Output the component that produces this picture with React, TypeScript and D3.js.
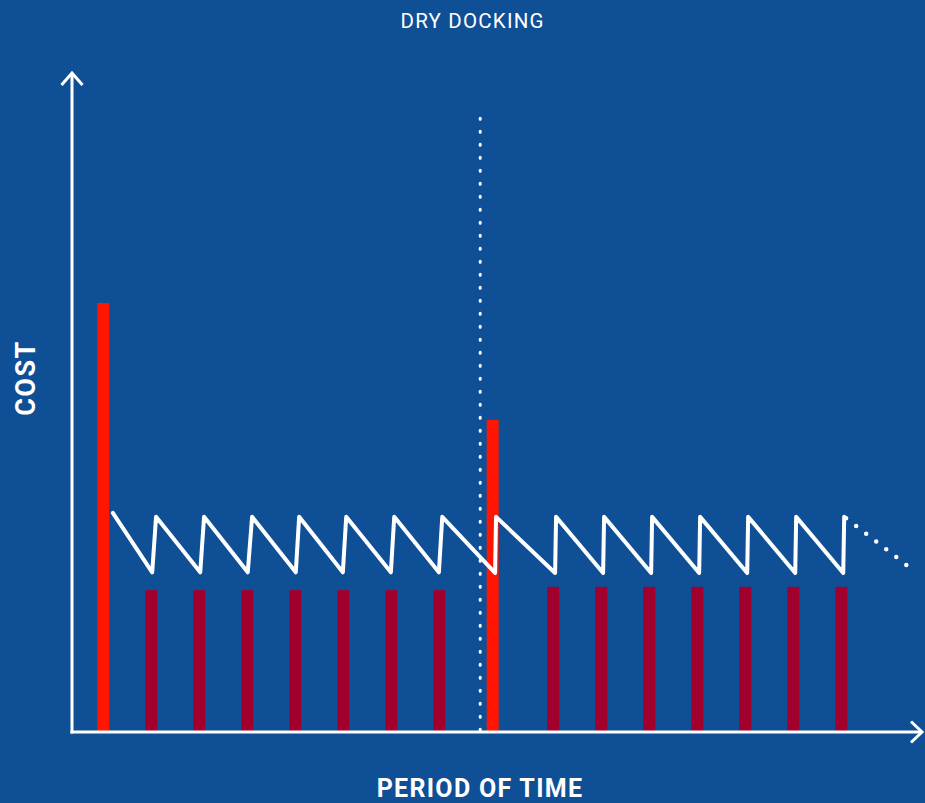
import React from "react";
import * as d3 from "d3";

const W = 925;
const H = 803;

// time units (one maintenance cycle = 1)
const dockingTimes = [0.65, 8.76];
const dockingCosts = [65, 47.3];

const maintenanceTimes = [1.65, 2.65, 3.65, 4.65, 5.65, 6.65, 7.65, 10.02, 11.02, 12.02, 13.02, 14.02, 15.02, 16.02];
const maintenanceCosts = [21.5, 21.5, 21.5, 21.5, 21.5, 21.5, 21.5, 22, 22, 22, 22, 22, 22, 22];

const sawTimes = [0.85, 1.67, 1.75, 2.67, 2.75, 3.66, 3.75, 4.66, 4.73, 5.64, 5.71, 6.64, 6.71, 7.64, 7.71, 8.81, 8.83, 10.06, 10.08, 11.06, 11.08, 12.06, 12.08, 13.06, 13.08, 14.06, 14.08, 15.06, 15.08, 16.06, 16.08];
const sawCosts = [33.2, 24.2, 32.6, 24.2, 32.6, 24.2, 32.6, 24.2, 32.6, 24.2, 32.6, 24.2, 32.6, 24.2, 32.6, 24.1, 32.6, 24.1, 32.6, 24.1, 32.6, 24.1, 32.6, 24.1, 32.6, 24.1, 32.6, 24.1, 32.6, 24.1, 32.6];

const projectionTimes = [16.12, 17.5];
const projectionCosts = [32.4, 24.6];

const dockingLineTime = 8.5;
const dockingLineTop = 93;

const titleText = "DRY DOCKING";
const xLabel = "PERIOD OF TIME";
const yLabel = "COST";

const BG = "#0f4f96";
const RED = "#ff1500";
const CRIMSON = "#a1002c";

export default function App() {
  const x = d3.scaleLinear().domain([0, 17.7]).range([72, 922]);
  const y = d3.scaleLinear().domain([0, 100]).range([732, 72]);
  const barW = 12;

  const saw = d3
    .line<number>()
    .x((_, i) => x(sawTimes[i]))
    .y((_, i) => y(sawCosts[i]))(sawTimes.map((t) => t));

  const proj = d3
    .line<number>()
    .x((_, i) => x(projectionTimes[i]))
    .y((_, i) => y(projectionCosts[i]))(projectionTimes.map((t) => t));

  const x0 = x(0);
  const y0 = y(0);
  const yTop = y(100) + 1;
  const xEnd = x(17.7);

  return (
    <svg width={W} height={H} style={{ position: "absolute", left: 0, top: 0, display: "block" }}>
      <rect width={W} height={H} fill={BG} />
      <text x={472.6} y={28} fill="#fff" fontFamily="Roboto, 'Open Sans', sans-serif" fontSize={20.5} letterSpacing={1.2} textAnchor="middle">
        {titleText}
      </text>

      {/* dry docking bars */}
      {dockingTimes.map((t, i) => (
        <rect key={"d" + i} x={x(t) - barW / 2} y={y(dockingCosts[i])} width={barW} height={y0 - y(dockingCosts[i])} fill={RED} />
      ))}
      {/* maintenance bars */}
      {maintenanceTimes.map((t, i) => (
        <rect key={"m" + i} x={x(t) - barW / 2} y={y(maintenanceCosts[i])} width={barW} height={y0 - y(maintenanceCosts[i])} fill={CRIMSON} />
      ))}

      {/* dotted docking line */}
      <line
        x1={x(dockingLineTime)}
        x2={x(dockingLineTime)}
        y1={y(dockingLineTop)}
        y2={y0}
        stroke="#fff"
        strokeWidth={3}
        strokeDasharray="1 12"
        strokeLinecap="round"
      />

      {/* sawtooth */}
      <path d={saw || ""} fill="none" stroke="#fff" strokeWidth={4} strokeLinejoin="round" strokeLinecap="round" />
      <path d={proj || ""} fill="none" stroke="#fff" strokeWidth={4.5} strokeDasharray="0 12.7" strokeLinecap="round" />

      {/* axes */}
      <line x1={x0} x2={x0} y1={y0 + 1.5} y2={yTop} stroke="#fff" strokeWidth={3} />
      <polyline points={`${x0 - 10.5},${yTop + 12} ${x0},${yTop} ${x0 + 10.5},${yTop + 12}`} fill="none" stroke="#fff" strokeWidth={3} />
      <line x1={x0 - 1.5} x2={xEnd} y1={y0} y2={y0} stroke="#fff" strokeWidth={3} />
      <polyline points={`${xEnd - 11},${y0 - 10.5} ${xEnd},${y0} ${xEnd - 11},${y0 + 10.5}`} fill="none" stroke="#fff" strokeWidth={3} />

      <text x={480} y={797} fill="#fff" fontFamily="Roboto, 'Open Sans', sans-serif" fontWeight="bold" fontSize={25} letterSpacing={1.3} textAnchor="middle">
        {xLabel}
      </text>
      <text
        transform="translate(34.5,378) rotate(-90)"
        fill="#fff"
        fontFamily="Roboto, 'Open Sans', sans-serif"
        fontWeight="bold"
        fontSize={27}
        letterSpacing={1.5}
        textAnchor="middle"
      >
        {yLabel}
      </text>
    </svg>
  );
}
